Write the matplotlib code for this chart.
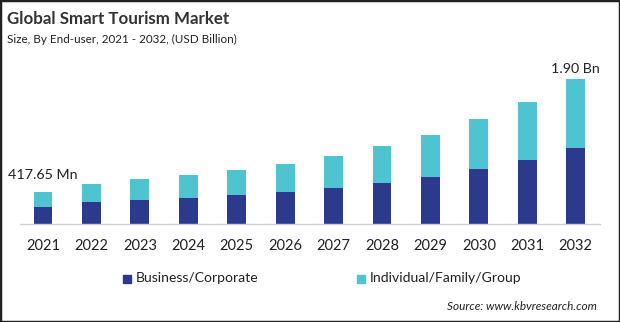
import numpy as np
import matplotlib.pyplot as plt
from matplotlib.patches import Rectangle

plt.rcParams['font.family'] = ['Lato', 'DejaVu Sans']

years = ['2021', '2022', '2023', '2024', '2025', '2026',
         '2027', '2028', '2029', '2030', '2031', '2032']
business = [0.22, 0.29, 0.31, 0.34, 0.38, 0.42, 0.47, 0.54, 0.62, 0.72, 0.84, 1.00]
individual = [0.19765, 0.24, 0.28, 0.30, 0.33, 0.37, 0.42, 0.48, 0.55, 0.65, 0.76, 0.90]
first_label = '417.65 Mn'
last_label = '1.90 Bn'

c_business = '#2c3a8e'
c_individual = '#4fc3cf'

W, H = 620, 322
fig = plt.figure(figsize=(W / 100, H / 100), dpi=100)


def px(x, y):
    return x / W, 1 - y / H


# plot area: x 20..600 px, baseline at y=224 px, top at y=60 px
ax = fig.add_axes([20 / W, 1 - 224 / H, 580 / W, 164 / H])
x = np.arange(len(years))
ax.bar(x, business, width=0.39, color=c_business)
ax.bar(x, individual, width=0.39, bottom=business, color=c_individual)
ax.set_xlim(-0.475, 11.5)
ax.set_ylim(0, 2.15)
ax.set_yticks([])
ax.set_xticks(x)
ax.set_xticklabels(years, fontsize=10.5, color='#222222')
ax.tick_params(axis='x', length=0, pad=11)
for s in ['top', 'right', 'left']:
    ax.spines[s].set_visible(False)
ax.spines['bottom'].set_color('#d0d0d0')
ax.spines['bottom'].set_linewidth(1)

totals = np.array(business) + np.array(individual)
ax.annotate(first_label, (x[0], totals[0]), xytext=(0, 8), textcoords='offset points',
            ha='center', va='bottom', fontsize=10.3, color='#222222')
ax.annotate(last_label, (x[-1], totals[-1]), xytext=(0, 3), textcoords='offset points',
            ha='center', va='bottom', fontsize=10.3, color='#222222')

# titles
fig.text(*px(7, 19), 'Global Smart Tourism Market', fontsize=12.2, fontweight='bold',
         color='#333333', va='center', ha='left')
fig.text(*px(7, 39), 'Size, By End-user, 2021 - 2032, (USD Billion)', fontsize=8.4,
         color='#222222', va='center', ha='left')

# legend
for sx, label, col in [(126, 'Business/Corporate', c_business),
                       (360, 'Individual/Family/Group', c_individual)]:
    fig.patches.append(Rectangle(px(sx - 3, 283), 8 / W, 8 / H, transform=fig.transFigure,
                                 color=col))
    fig.text(*px(sx + 10, 278), label, fontsize=10.1, color='#222222', va='center', ha='left')

fig.text(*px(597, 306), 'Source: www.kbvresearch.com', fontsize=8.5, style='italic',
         color='#222222', va='center', ha='right')

# outer frame
fig.patches.append(Rectangle((0, 0), 1, 1, transform=fig.transFigure, fill=False,
                             edgecolor='#222222', linewidth=2.5))

fig.savefig('out.png', dpi=100)
